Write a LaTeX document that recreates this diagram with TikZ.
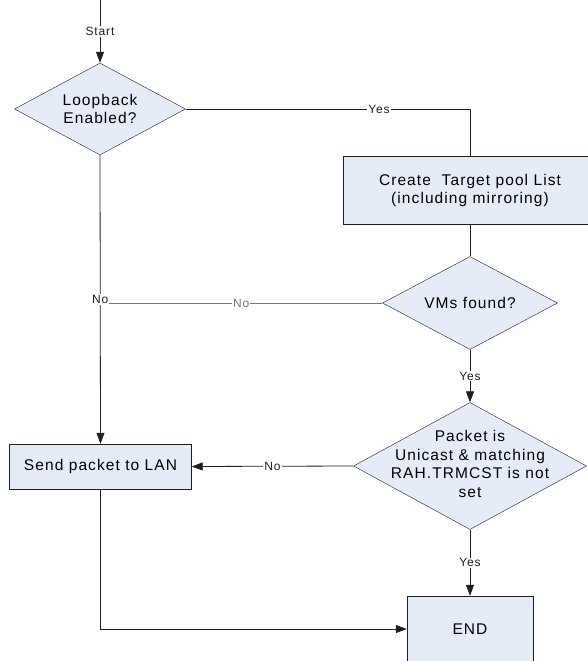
\documentclass[tikz,border=0pt]{standalone}
\usepackage{fontspec}
\setmainfont{Liberation Sans}
\newfontfamily\flowfont[LetterSpace=7]{Liberation Sans}
\usetikzlibrary{arrows.meta, positioning, shapes.geometric, calc}
\definecolor{flowfill}{RGB}{230,236,247}
\definecolor{flowline}{RGB}{30,30,30}
\definecolor{softline}{RGB}{120,120,120}

\begin{document}
\begin{tikzpicture}[x=1pt, y=-1pt,
    decision/.style={diamond, draw=flowline, fill=flowfill, inner sep=0pt},
    decisiontext/.style={align=center, inner sep=0pt, font=\flowfont\fontsize{15.5}{18.7}\selectfont},
    process/.style={rectangle, draw=flowline, fill=flowfill, inner sep=0pt, align=center, font=\flowfont\fontsize{15.5}{18}\selectfont},
    flow/.style={line width=0.8pt, color=flowline},
    arrow/.style={flow, -{Triangle[length=11pt, width=8pt]}},
    tag/.style={fill=white, inner sep=1pt, font=\flowfont\fontsize{12}{14}\selectfont}
]
\useasboundingbox (0,0) rectangle (587,661);
\coordinate (start) at (100,0);
\node[decision, minimum width=171pt, minimum height=92pt] (loop) at (100,109) {};
\node[decisiontext] (looptext) at (loop.center) {Loopback\\Enabled?};
\node[process, minimum width=254pt, minimum height=68pt] (target) at (470,190) {Create~~Target pool List\\(including mirroring)};
\node[decision, minimum width=175pt, minimum height=93pt] (vms) at (470,303) {};
\node[decisiontext] (vmstext) at (vms.center) {VMs found?};
\node[decision, minimum width=233pt, minimum height=127pt] (pkt) at (470,466) {};
\node[decisiontext] (pkttext) at (470,464) {Packet is\\Unicast \& matching\\RAH.TRMCST is not\\set};
\node[process, minimum width=182pt, minimum height=45pt] (lan) at (100.5,466.5) {Send packet to LAN};
\node[process, minimum width=126pt, minimum height=66pt] (end) at (470,629) {END};
\draw[arrow] (start) -- node[tag] {Start} (loop.north);
\draw[flow] (loop.east) -| node[tag, pos=0.34] {Yes} (target.north);
\draw[flow] (target.south) -- (vms.north);
\draw[flow, color=softline] (vms.west) -- node[tag] {No} (loop.south |- vms.west);
\draw[arrow] (loop.south) -- node[tag, pos=0.5] {No} (lan.north);
\draw[arrow] (vms.south) -- node[tag] {Yes} (pkt.north);
\draw[arrow] (pkt.west) -- node[tag] {No} (lan.east);
\draw[arrow] (pkt.south) -- node[tag] {Yes} (end.north);
\draw[arrow] (lan.south) |- (end.west);
\end{tikzpicture}
\end{document}
